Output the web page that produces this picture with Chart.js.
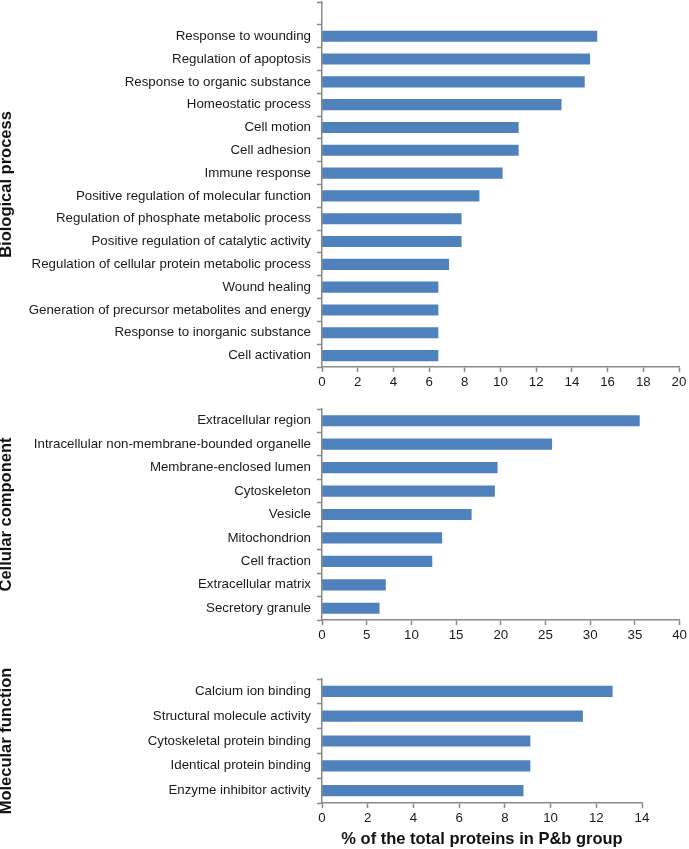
<!DOCTYPE html>
<html><head><meta charset="utf-8">
<script src="https://cdn.jsdelivr.net/npm/chart.js@4.4.0/dist/chart.umd.min.js"></script>
<style>
html,body{margin:0;padding:0;background:#fff;width:689px;height:849px;overflow:hidden}
.p{position:absolute;left:0;width:689px}
</style></head><body>
<div class="p" style="top:0;height:398px"><canvas id="c1"></canvas></div>
<div class="p" style="top:400px;height:250px"><canvas id="c2"></canvas></div>
<div class="p" style="top:660px;height:189px"><canvas id="c3"></canvas></div>
<script>
const bioCategories = ["Response to wounding","Regulation of apoptosis","Response to organic substance","Homeostatic process","Cell motion","Cell adhesion","Immune response","Positive regulation of molecular function","Regulation of phosphate metabolic process","Positive regulation of catalytic activity","Regulation of cellular protein metabolic process","Wound healing","Generation of precursor metabolites and energy","Response to inorganic substance","Cell activation"];
const bioValues = [15.4,15.0,14.7,13.4,11.0,11.0,10.1,8.8,7.8,7.8,7.1,6.5,6.5,6.5,6.5];
const bioTicks = [0,2,4,6,8,10,12,14,16,18,20];

const ccCategories = ["Extracellular region","Intracellular non-membrane-bounded organelle","Membrane-enclosed lumen","Cytoskeleton","Vesicle","Mitochondrion","Cell fraction","Extracellular matrix","Secretory granule"];
const ccValues = [35.5,25.7,19.6,19.3,16.7,13.4,12.3,7.1,6.4];
const ccTicks = [0,5,10,15,20,25,30,35,40];

const mfCategories = ["Calcium ion binding","Structural molecule activity","Cytoskeletal protein binding","Identical protein binding","Enzyme inhibitor activity"];
const mfValues = [12.7,11.4,9.1,9.1,8.8];
const mfTicks = [0,2,4,6,8,10,12,14];

const panelTitles = ["Biological process","Cellular component","Molecular function"];
const xAxisTitle = "% of the total proteins in P&b group";

const FONT = "'Liberation Sans', Arial, sans-serif";
const AXIS = '#8a8a8a';
const BAR = '#4f81bd';

function makeChart(id, labels, values, ticks, o){
  new Chart(document.getElementById(id), {
    type: 'bar',
    data: { labels: labels, datasets: [{ data: values, backgroundColor: BAR, borderWidth: 0, barThickness: 10.5 }] },
    options: {
      indexAxis: 'y',
      responsive: true,
      maintainAspectRatio: false,
      animation: false,
      events: [],
      layout: { padding: { top: o.padTop, right: o.padRight, left: 0, bottom: 0 } },
      plugins: { legend: { display: false }, tooltip: { enabled: false } },
      scales: {
        x: {
          type: 'linear',
          min: ticks[0], max: ticks[ticks.length-1],
          afterBuildTicks: s => { s.ticks = ticks.map(v => ({ value: v })); },
          afterFit: s => { s.height = o.xHeight; },
          grid: { drawOnChartArea: false, drawTicks: true, tickLength: 5, tickColor: AXIS, tickWidth: 1.5 },
          border: { display: true, color: AXIS, width: 1.5 },
          ticks: { color: '#1a1a1a', font: { family: FONT, size: 13.3 }, padding: 2, maxRotation: 0, autoSkip: false },
          title: o.xTitle ? { display: true, text: o.xTitle, color: '#111', font: { family: FONT, size: 16.5, weight: 'bold', lineHeight: 1.2 }, padding: { top: 0, bottom: 0 } } : { display: false }
        },
        y: {
          afterFit: s => { s.width = 322; s.paddingTop = 0; s.paddingBottom = 0; },
          grid: { drawOnChartArea: false, drawTicks: true, tickLength: 5, tickColor: AXIS, tickWidth: 1.5, offset: true },
          border: { display: true, color: AXIS, width: 1.5 },
          ticks: { color: '#1a1a1a', font: { family: FONT, size: 13.3 }, padding: 6, autoSkip: false },
          title: { display: true, text: o.yTitle, color: '#111', font: { family: FONT, size: 16.5, weight: 'bold', lineHeight: 1 }, padding: { top: -2, bottom: 0 } }
        }
      }
    }
  });
}

makeChart('c1', [''].concat(bioCategories), [null].concat(bioValues), bioTicks, { padTop: 2, padRight: 10, xHeight: 31, yTitle: panelTitles[0] });
makeChart('c2', ccCategories, ccValues, ccTicks, { padTop: 9, padRight: 9, xHeight: 30, yTitle: panelTitles[1] });
makeChart('c3', mfCategories, mfValues, mfTicks, { padTop: 19, padRight: 47, xHeight: 46, yTitle: panelTitles[2], xTitle: xAxisTitle });
</script>
</body></html>
